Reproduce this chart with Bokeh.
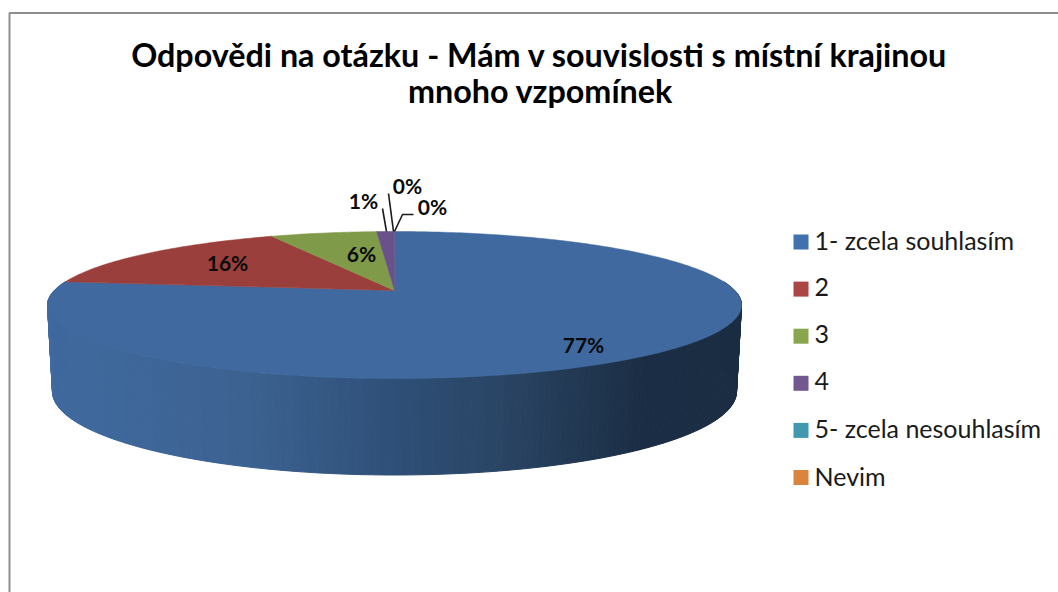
import numpy as np
from bokeh.embed import file_html
from bokeh.resources import INLINE
from bokeh.plotting import figure
from bokeh.models import Range1d
from bokeh.core.properties import value

# ---- data ----
categories = ["1- zcela souhlasím", "2", "3", "4", "5- zcela nesouhlasím", "Nevim"]
shares = [77, 16, 6, 1, 0, 0]
share_labels = ["77%", "16%", "6%", "1%", "0%", "0%"]
legend_colors = ["#4172ad", "#aa4643", "#89a54e", "#71588f", "#4198af", "#db843d"]
face_colors = ["#406a9f", "#9b3f3c", "#7f9a48", "#69518a", "#3b8a9f", "#c87a38"]
title_lines = ["Odpovědi na otázku - Mám v souvislosti s místní krajinou", "mnoho vzpomínek"]

# ---- layout: pixel space of the page, y downwards ----
W, H = 1058, 592
FONT = "Lato"
CX = 394.0
TOP_K, TOP_A, TOP_B, TOP_C = 340.2, -13.43, 290.0, 0.1973      # perspective of the upper disc
BOT_K, BOT_A, BOT_B, BOT_C = 335.3, -6.24, 374.5, 0.1976       # perspective of the lower rim


def project(theta, k, a, b, c):
    u, v = np.sin(theta), np.cos(theta)
    d = 1 + c * v
    return CX + k * u / d, (a * v + b) / d


def top(theta):
    return project(theta, TOP_K, TOP_A, TOP_B, TOP_C)


def bottom(theta):
    return project(theta, BOT_K, BOT_A, BOT_B, BOT_C)


def side_color(x):
    stops = [50, 250, 394, 500, 640, 741]
    r = np.interp(x, stops, [64, 60, 47, 42, 28, 27])
    g = np.interp(x, stops, [106, 98, 80, 69, 46, 45])
    b = np.interp(x, stops, [159, 145, 120, 101, 69, 67])
    return "#%02x%02x%02x" % (int(r), int(g), int(b))


p = figure(width=W, height=H, output_backend="svg", toolbar_location=None,
           x_range=Range1d(0, W), y_range=Range1d(H, 0),
           x_axis_type=None, y_axis_type=None, min_border=0,
           outline_line_color=None, background_fill_color="white", border_fill_color="white")
p.grid.visible = False

# chart frame
p.line([1060, 9, 9], [12.5, 12.5, 594], line_color="#8e8e8e", line_width=2)

# side wall, drawn as narrow strips for the horizontal shading
edges = np.linspace(np.pi * 0.46, np.pi * 1.54, 221)
sx, sy, sc = [], [], []
for t0, t1 in zip(edges[:-1], edges[1:]):
    x0, y0 = top(t0)
    x1, y1 = top(t1)
    x2, y2 = bottom(t1)
    x3, y3 = bottom(t0)
    sx.append([x0, x1, x2, x3])
    sy.append([y0, y1, y2, y3])
    sc.append(side_color((x0 + x1) / 2))
p.patches(sx, sy, fill_color=sc, line_color=sc, line_width=1)

# upper disc
fractions = np.cumsum([0] + shares) / sum(shares)
for i in range(len(shares)):
    if shares[i] == 0:
        continue
    th = np.linspace(fractions[i], fractions[i + 1], max(int(shares[i]) * 4, 4)) * 2 * np.pi
    ex, ey = top(th)
    p.patch([CX] + list(ex), [TOP_B] + list(ey), fill_color=face_colors[i],
            line_color=face_colors[i], line_width=0.5)

# leader lines
p.line([382, 386], [208, 231], line_color="#1a1a1a", line_width=1.6)
p.line([388, 393], [193, 231], line_color="#1a1a1a", line_width=1.6)
p.line([394, 402, 413], [231, 214, 214], line_color="#1a1a1a", line_width=1.6)

# value labels
lab_x = [583, 227, 361, 363, 407, 432]
lab_y = [344, 262, 253, 200, 185, 206]
p.text(lab_x, lab_y, text=share_labels, text_font=value(FONT), text_font_style="bold",
       text_font_size="21px", text_align="center", text_baseline="middle", text_color="#0a0a0a")

# title
p.text([539, 540], [54, 90], text=title_lines, text_font=value(FONT), text_font_style="bold",
       text_font_size="32.3px", text_align="center", text_baseline="middle", text_color="#000000")

# legend
leg_y = [241.5 + 47.1 * i for i in range(len(categories))]
p.rect([800.5] * len(categories), leg_y, width=15, height=15, fill_color=legend_colors,
       line_color=None)
p.text([814] * len(categories), [y - 2 for y in leg_y], text=categories, text_font=value(FONT),
       text_font_size="25px", text_align="left", text_baseline="middle", text_color="#1a1a1a")

open("out.html", "w").write(file_html(p, INLINE))
